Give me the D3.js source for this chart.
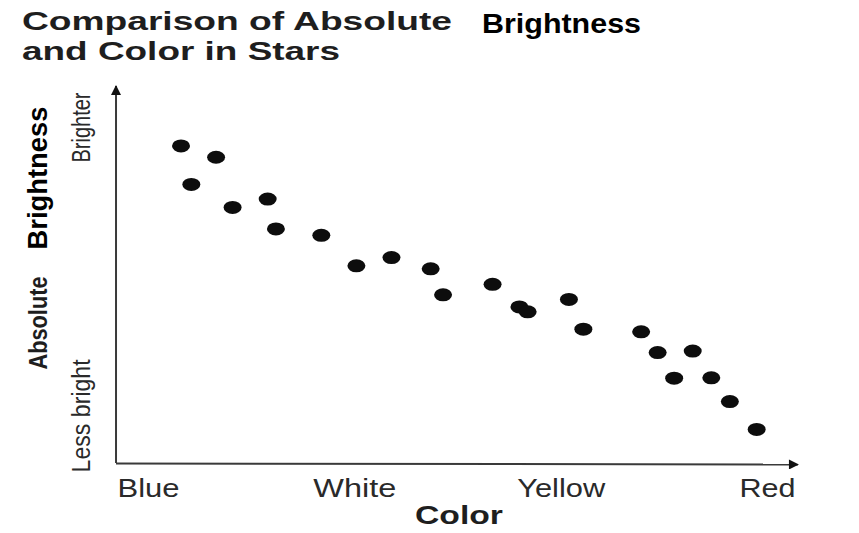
<!DOCTYPE html>
<html>
<head>
<meta charset="utf-8">
<script src="https://cdn.jsdelivr.net/npm/d3@7/dist/d3.min.js"></script>
<style>
  html, body { margin: 0; padding: 0; background: #fff; }
  svg { display: block; }
  text { font-family: "Liberation Sans", Arial, Helvetica, sans-serif; }
</style>
</head>
<body>
<svg id="chart" width="859" height="533"></svg>
<script>
// ---- data ----
const colorCategories = ["Blue", "White", "Yellow", "Red"];
// star colour index (0 = Blue ... 3 = Red)
const starColor = [0.16, 0.33, 0.21, 0.41, 0.58, 0.62, 0.84, 1.01, 1.18, 1.37, 1.43,
                   1.67, 1.80, 1.84, 2.04, 2.11, 2.39, 2.47, 2.64, 2.55, 2.73, 2.82, 2.95];
// absolute brightness (relative units, 0 = less bright, 10 = brighter)
const starBrightness = [8.41, 8.11, 7.39, 6.78, 7.00, 6.21, 6.04, 5.23, 5.45, 5.15, 4.46,
                        4.74, 4.14, 4.01, 4.34, 3.55, 3.48, 2.93, 2.97, 2.25, 2.26, 1.63, 0.89];
const brightnessTicks = ["Less bright", "Brighter"];

const stars = starColor.map((c, i) => ({ c, b: starBrightness[i] }));

// ---- layout ----
const svg = d3.select("#chart");
const x = d3.scaleLinear().domain([0, 3]).range([148, 767]);
const y = d3.scaleLinear().domain([0, 10]).range([463, 86]);
const axisColor = "#3a3a3a";
const textColor = "#1e1e1e";

// axes lines with arrows
svg.append("defs").append("marker")
  .attr("id", "arrow").attr("viewBox", "0 0 10 10")
  .attr("refX", 9).attr("refY", 5)
  .attr("markerWidth", 6).attr("markerHeight", 5)
  .attr("markerUnits", "strokeWidth")
  .attr("orient", "auto")
  .append("path").attr("d", "M0,0 L10,5 L0,10 Z").attr("fill", "#111");

svg.append("line")
  .attr("x1", x(-0.155)).attr("y1", y(0))
  .attr("x2", x(-0.155)).attr("y2", y(10))
  .attr("stroke", axisColor).attr("stroke-width", 2)
  .attr("marker-end", "url(#arrow)");

svg.append("line")
  .attr("x1", x(-0.155)).attr("y1", y(0) + 0.5)
  .attr("x2", x(3.15)).attr("y2", y(0) + 1.5)
  .attr("stroke", axisColor).attr("stroke-width", 2)
  .attr("marker-end", "url(#arrow)");

// x tick labels via axis
const xWidths = { Blue: 62, White: 83, Yellow: 88, Red: 56 };
const xAxis = d3.axisBottom(x)
  .tickValues([0, 1, 2, 3])
  .tickFormat((d) => colorCategories[d])
  .tickSize(0).tickPadding(0);
const gx = svg.append("g").attr("transform", `translate(0, 497)`).call(xAxis);
gx.select(".domain").remove();
gx.selectAll("text")
  .attr("dy", 0).attr("y", 0)
  .attr("font-size", 25)
  .attr("font-family", "Liberation Sans, Arial, sans-serif")
  .attr("fill", "#2a2a2a")
  .attr("text-anchor", "middle")
  .attr("textLength", (d) => xWidths[colorCategories[d]])
  .attr("lengthAdjust", "spacingAndGlyphs");

// x title
svg.append("text")
  .attr("x", 459).attr("y", 524)
  .attr("text-anchor", "middle")
  .attr("font-weight", "bold").attr("font-size", 25)
  .attr("fill", textColor)
  .attr("textLength", 88).attr("lengthAdjust", "spacingAndGlyphs")
  .text("Color");

// y "tick" labels (rotated)
const yLabelPos = [{ v: 1.25, len: 113 }, { v: 8.9, len: 70 }];
brightnessTicks.forEach((t, i) => {
  svg.append("text")
    .attr("transform", `translate(90, ${y(yLabelPos[i].v)}) rotate(-90)`)
    .attr("text-anchor", "middle")
    .attr("font-size", 25)
    .attr("fill", "#2a2a2a")
    .attr("textLength", yLabelPos[i].len).attr("lengthAdjust", "spacingAndGlyphs")
    .text(t);
});

// y title (rotated)
svg.append("text")
  .attr("transform", `translate(47, 323) rotate(-90)`)
  .attr("text-anchor", "middle")
  .attr("font-weight", "bold").attr("font-size", 26)
  .attr("fill", textColor)
  .attr("textLength", 93).attr("lengthAdjust", "spacingAndGlyphs")
  .text("Absolute");
svg.append("text")
  .attr("transform", `translate(47, 178) rotate(-90)`)
  .attr("text-anchor", "middle")
  .attr("font-weight", "bold").attr("font-size", 28)
  .attr("fill", "#000")
  .attr("textLength", 143).attr("lengthAdjust", "spacingAndGlyphs")
  .text("Brightness");

// chart title
svg.append("text")
  .attr("x", 22).attr("y", 30)
  .attr("font-weight", "bold").attr("font-size", 25)
  .attr("fill", textColor)
  .attr("textLength", 430).attr("lengthAdjust", "spacingAndGlyphs")
  .text("Comparison of Absolute");
svg.append("text")
  .attr("x", 22).attr("y", 60)
  .attr("font-weight", "bold").attr("font-size", 25)
  .attr("fill", textColor)
  .attr("textLength", 318).attr("lengthAdjust", "spacingAndGlyphs")
  .text("and Color in Stars");
svg.append("text")
  .attr("x", 482).attr("y", 33)
  .attr("font-weight", "bold").attr("font-size", 28)
  .attr("fill", "#000")
  .attr("textLength", 159).attr("lengthAdjust", "spacingAndGlyphs")
  .text("Brightness");

// stars
svg.append("g").selectAll("ellipse")
  .data(stars)
  .join("ellipse")
  .attr("cx", (d) => x(d.c))
  .attr("cy", (d) => y(d.b))
  .attr("rx", 9).attr("ry", 6.5)
  .attr("fill", "#0d0d0d");
</script>
</body>
</html>
